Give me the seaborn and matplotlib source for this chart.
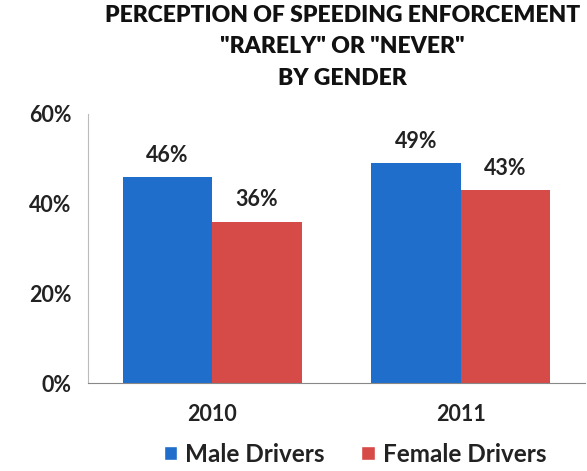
import matplotlib
matplotlib.use("Agg")
import matplotlib.pyplot as plt
import seaborn as sns
import pandas as pd
from matplotlib.patches import Patch

years = ["2010", "2011"]
genders = ["Male Drivers", "Female Drivers"]
male_values = [46, 49]
female_values = [36, 43]
ytick_values = [0, 20, 40, 60]

df = pd.DataFrame({
    "year": years * 2,
    "gender": [genders[0]] * 2 + [genders[1]] * 2,
    "value": male_values + female_values,
})

sns.set_style("white")
plt.rcParams["font.family"] = ["Lato", "DejaVu Sans"]

colors = {"Male Drivers": "#1f6ecb", "Female Drivers": "#d64a48"}

fig = plt.figure(figsize=(5.87, 4.71), dpi=100)
ax = fig.add_axes([88 / 587, (471 - 383) / 471, (585 - 88) / 587, (383 - 114) / 471])

sns.barplot(data=df, x="year", y="value", hue="gender", hue_order=genders,
            palette=colors, width=0.72, ax=ax, legend=False, saturation=1,
            edgecolor="none")

for cont in ax.containers:
    ax.bar_label(cont, labels=[f"{int(v)}%" for v in cont.datavalues],
                 padding=8, fontsize=15.5, fontweight="bold", color="#222222")

ax.set_ylim(0, 60)
ax.set_xlim(-0.5, 1.5)
ax.set_yticks(ytick_values)
ax.set_yticklabels([f"{v}%" for v in ytick_values], fontsize=15.5, fontweight="bold", color="#222222")
ax.tick_params(axis="x", labelsize=15.5, pad=15, colors="#222222")
for lbl in ax.get_xticklabels():
    lbl.set_fontweight("bold")
ax.tick_params(axis="y", pad=12, length=0)
ax.tick_params(axis="x", length=0)
ax.set_xlabel("")
ax.set_ylabel("")
for s in ["top", "right"]:
    ax.spines[s].set_visible(False)
ax.spines["left"].set_color("#bbbbbb")
ax.spines["bottom"].set_color("#888888")

fig.text(0.583, 0.99, "PERCEPTION OF SPEEDING ENFORCEMENT\n\"RARELY\" OR \"NEVER\"\nBY GENDER",
         ha="center", va="top", fontsize=16.5, fontweight="heavy", linespacing=1.62, color="#111111")

handles = [Patch(facecolor=colors[g], label=g) for g in genders]
leg = fig.legend(handles=handles, loc="lower center", bbox_to_anchor=(0.605, -0.035), ncol=2,
                 frameon=False, fontsize=17.5, handlelength=0.55, handleheight=0.55,
                 handletextpad=0.35, columnspacing=1.5)
for t in leg.get_texts():
    t.set_fontweight("bold")
    t.set_color("#222222")

fig.savefig("out.png", dpi=100)
